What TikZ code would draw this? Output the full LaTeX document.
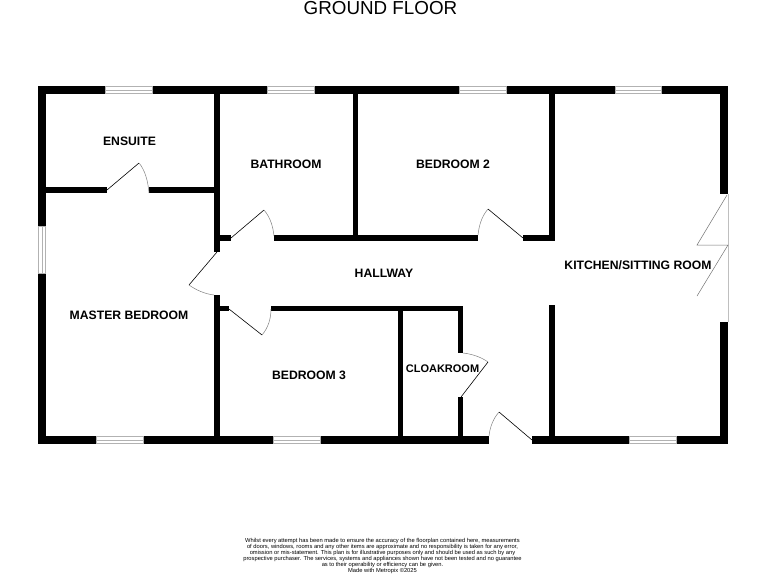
\documentclass[tikz,border=0pt]{standalone}
\usepackage{fontspec}
\setmainfont{Liberation Sans}
\usetikzlibrary{positioning}
\tikzset{
    roomlabel/.style={font=\bfseries\fontsize{12.2}{14}\selectfont,inner sep=0pt},
    wall/.style={fill=black},
    windowpane/.style={fill=white,draw=black!30,line width=0.8pt},
    doorleaf/.style={draw=black,line width=0.6pt},
    doorswing/.style={draw=black!50,line width=0.5pt},
}
\newcommand{\wallbox}[4]{\fill[wall] (#1,#2) rectangle (#3,#4);}
\begin{document}
\begin{tikzpicture}[x=1pt,y=-1pt]
    \useasboundingbox (0,0) rectangle (768,576);
    % outer walls
    \wallbox{38}{86}{728}{94}
    \wallbox{38}{436}{489}{444}
    \wallbox{532}{436}{728}{444}
    \wallbox{38}{86}{46}{444}
    \wallbox{720}{86}{728}{194}
    \wallbox{720}{322}{728}{444}
    % inner walls
    \wallbox{214}{94}{219.5}{252}
    \wallbox{214}{295}{219.5}{436}
    \wallbox{46}{187}{107}{193}
    \wallbox{149}{187}{214}{193}
    \wallbox{353}{94}{358}{237}
    \wallbox{219}{235}{231}{240.5}
    \wallbox{274}{235}{478}{240.5}
    \wallbox{523}{234.5}{554.5}{240.5}
    \wallbox{549}{94}{554.5}{240}
    \wallbox{549}{305}{554.5}{436}
    \wallbox{219}{306}{229}{311}
    \wallbox{271}{306}{463}{311}
    \wallbox{398}{311}{403}{436}
    \wallbox{458}{311}{463}{353}
    \wallbox{458}{397}{463}{436}
    % windows
    \foreach \xa/\xb in {105/152,267/314,459/506,615/661} {
        \draw[windowpane] (\xa,86.4) rectangle (\xb,93.6);
        \draw[black!30,line width=0.8pt] (\xa,90) -- (\xb,90);
    }
    \foreach \xa/\xb in {96/143,273/320,629/676} {
        \draw[windowpane] (\xa,436.4) rectangle (\xb,443.6);
        \draw[black!30,line width=0.8pt] (\xa,440) -- (\xb,440);
    }
    \draw[windowpane] (38.4,226) rectangle (45.6,273);
    \draw[black!30,line width=0.8pt] (42,226) -- (42,273);
    % doors
    \draw[doorleaf] (107,190) -- (139,163);
    \draw[doorswing] (139,163) .. controls (145,170) and (148,181) .. (149,193);
    \draw[doorleaf] (231,238) -- (264,210);
    \draw[doorswing] (264,210) .. controls (270,217) and (273,226) .. (274,236);
    \draw[doorleaf] (217,252) -- (189,285);
    \draw[doorswing] (189,285) .. controls (196,290) and (205,294) .. (214,295);
    \draw[doorleaf] (229,309) -- (262,335);
    \draw[doorswing] (262,335) .. controls (268,328) and (271,319) .. (271,309);
    \draw[doorleaf] (523,238) -- (488,209);
    \draw[doorswing] (488,209) .. controls (482,216) and (479,225) .. (478,235);
    \draw[doorleaf] (461,397) -- (488,362);
    \draw[doorswing] (488,362) .. controls (481,357) and (472,354) .. (463,353);
    \draw[doorleaf] (532,440) -- (499,412);
    \draw[doorswing] (499,412) .. controls (493,419) and (490,427) .. (489,436);
    % patio doors
    \draw[black!25,line width=0.5pt] (728,194) -- (728,322);
    \draw[black!55,line width=0.5pt] (727,195) -- (697,245) -- (728,245) -- (697,296);
    % labels
    \node[roomlabel] (ensuite) at (129.5,141.5) {ENSUITE};
    \node[roomlabel] (bathroom) at (286,164.5) {BATHROOM};
    \node[roomlabel] (bedroomtwo) at (453,164.5) {BEDROOM 2};
    \node[roomlabel] (hallway) at (384,273.5) {HALLWAY};
    \node[roomlabel] (kitchen) at (638,265.5) {KITCHEN/SITTING ROOM};
    \node[roomlabel] (masterbed) at (129,315.5) {MASTER BEDROOM};
    \node[roomlabel] (bedroomthree) at (309,375.5) {BEDROOM 3};
    \node[roomlabel,font=\bfseries\fontsize{11}{14}\selectfont] (cloakroom) at (442.5,369) {CLOAKROOM};
    \node[font=\fontsize{18.8}{20}\selectfont,inner sep=0pt] (title) at (380.5,8) {GROUND FLOOR};
    \node[font=\fontsize{5.77}{5.9}\selectfont,align=center,inner sep=0pt] (disclaimer) at (382.5,556) {Whilst every attempt has been made to ensure the accuracy of the floorplan contained here, measurements\\of doors, windows, rooms and any other items are approximate and no responsibility is taken for any error,\\omission or mis-statement. This plan is for illustrative purposes only and should be used as such by any\\prospective purchaser. The services, systems and appliances shown have not been tested and no guarantee\\as to their operability or efficiency can be given.\\Made with Metropix \textcopyright 2025};
\end{tikzpicture}
\end{document}
